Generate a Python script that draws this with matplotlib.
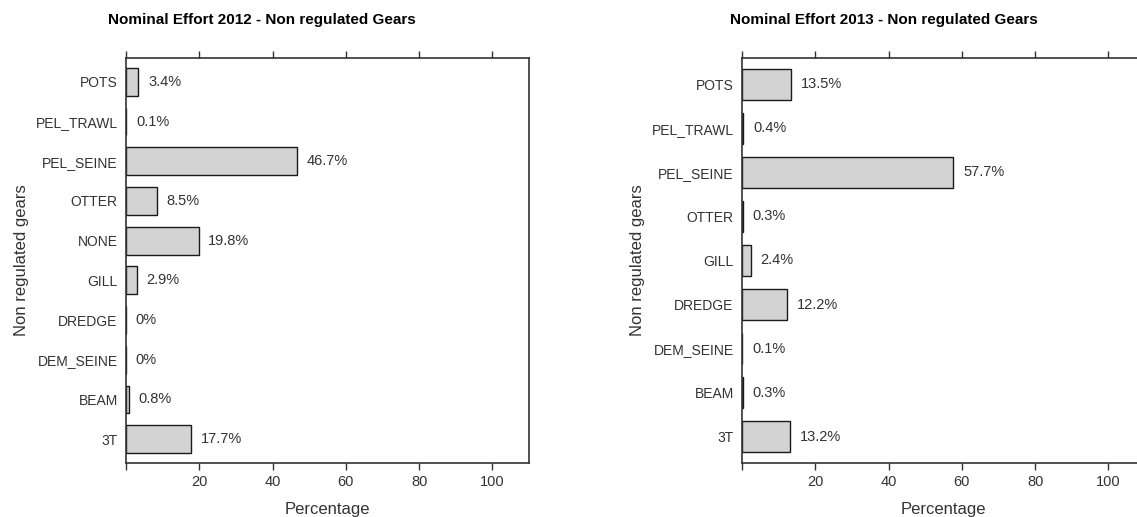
import matplotlib
matplotlib.use("Agg")
import matplotlib.pyplot as plt

plt.rcParams['font.family'] = ['Liberation Sans', 'DejaVu Sans']

# categories listed bottom to top, as drawn
gears = ['3T', 'BEAM', 'DEM_SEINE', 'DREDGE', 'GILL', 'NONE', 'OTTER',
         'PEL_SEINE', 'PEL_TRAWL', 'POTS']
effort_2012 = [17.7, 0.8, 0, 0, 2.9, 19.8, 8.5, 46.7, 0.1, 3.4]

gears_2013 = ['3T', 'BEAM', 'DEM_SEINE', 'DREDGE', 'GILL', 'OTTER',
              'PEL_SEINE', 'PEL_TRAWL', 'POTS']
effort_2013 = [13.2, 0.3, 0.1, 12.2, 2.4, 0.3, 57.7, 0.4, 13.5]

x_ticks = [0, 20, 40, 60, 80, 100]
x_tick_labels = ['', '20', '40', '60', '80', '100']

W, H = 1137, 517
fig = plt.figure(figsize=(W / 100, H / 100), dpi=100)

spine_col = '#333333'
txt_col = '#333333'


def draw_panel(left_px, title_x_px, cats, vals, title):
    ax = fig.add_axes([left_px / W, (H - 463) / H, 403 / W, 405 / H])
    n = len(cats)
    pos = list(range(n))
    ax.barh(pos, vals, height=0.7, color='#d3d3d3', edgecolor='#1a1a1a',
            linewidth=1.0)
    for p, v in zip(pos, vals):
        ax.annotate('%g%%' % v, (v, p), xytext=(7, 0), textcoords='offset points',
                    va='center', ha='left', fontsize=10.5, color=txt_col)
    ax.set_xlim(0, 110)
    ax.set_ylim(-0.6, n - 1 + 0.6)
    ax.set_yticks(pos)
    ax.set_yticklabels(cats, fontsize=10, color=txt_col)
    ax.tick_params(axis='y', length=0, pad=6)
    ax.set_xticks(x_ticks)
    ax.set_xticklabels(x_tick_labels, fontsize=10.5, color=txt_col)
    ax.tick_params(axis='x', which='both', top=True, bottom=True, direction='out',
                   length=5, width=1.0, color=spine_col, pad=4)
    for s in ax.spines.values():
        s.set_color(spine_col)
        s.set_linewidth(1.2)
    ax.set_xlabel('Percentage', fontsize=12, color=txt_col, labelpad=9)
    ax.set_ylabel('Non regulated gears', fontsize=12, color=txt_col, labelpad=5)
    fig.text(title_x_px / W, 1 - 20 / H, title, ha='center', va='center',
             fontsize=11, fontweight='bold', color='black')
    return ax


draw_panel(126, 262, gears, effort_2012, 'Nominal Effort 2012 - Non regulated Gears')
draw_panel(742, 884, gears_2013, effort_2013, 'Nominal Effort 2013 - Non regulated Gears')

fig.savefig('out.png', dpi=100)
